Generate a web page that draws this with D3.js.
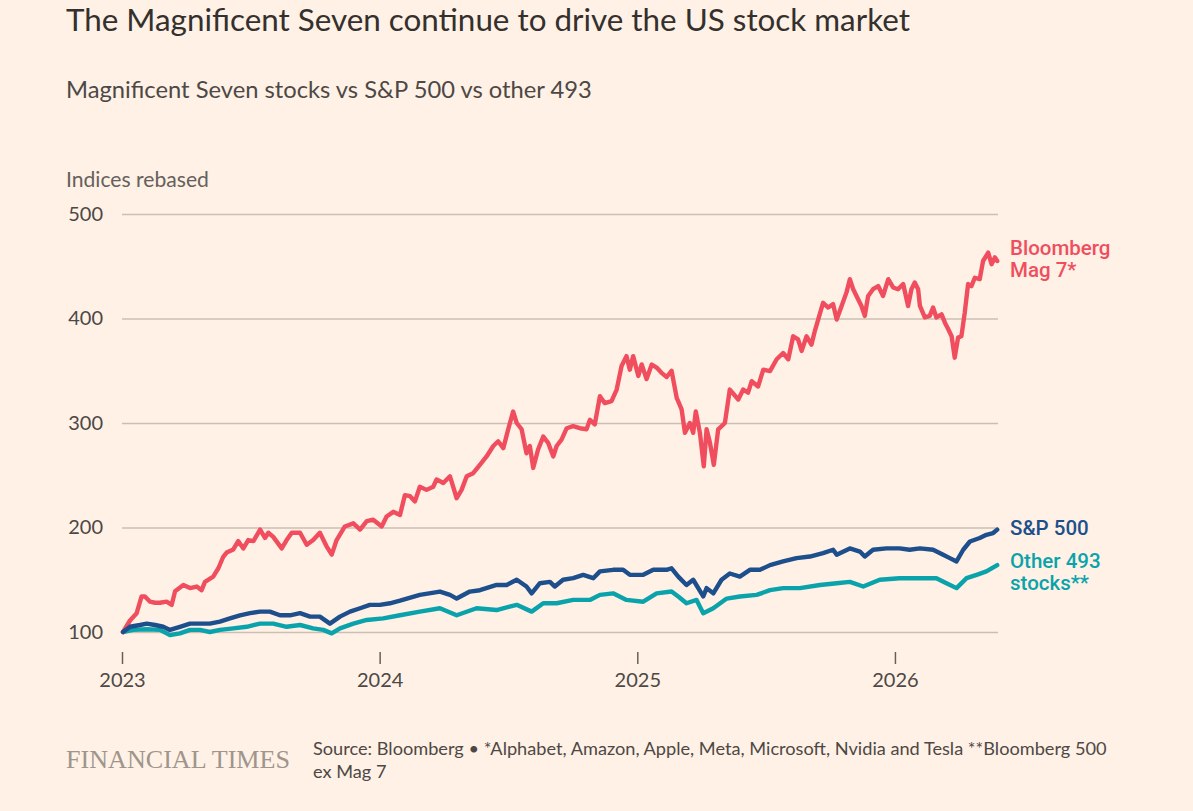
<!DOCTYPE html>
<html>
<head>
<meta charset="utf-8">
<script src="https://cdn.jsdelivr.net/npm/d3@7"></script>
<style>
  body { margin: 0; background: #fff1e5; }
  svg { display: block; }
</style>
</head>
<body>
<div id="chart"></div>
<script>
// values, x = decimal year, y = index (rebased to 100)
var mag7 = [
  [2023.004,100],[2023.031,111],[2023.057,118],[2023.076,134],[2023.089,134],[2023.109,129],
  [2023.128,128],[2023.147,128],[2023.173,129],[2023.193,126],[2023.206,139],[2023.238,145],
  [2023.264,142],[2023.290,143.5],[2023.309,140],[2023.322,148],[2023.354,153],[2023.374,161],
  [2023.393,172],[2023.406,176],[2023.432,179],[2023.451,187],[2023.471,180],[2023.490,188],
  [2023.510,187],[2023.536,198],[2023.555,190],[2023.568,195],[2023.587,191],[2023.620,180],
  [2023.639,188],[2023.659,195],[2023.691,195],[2023.717,183.5],[2023.742,188],[2023.768,195],
  [2023.794,182],[2023.814,174],[2023.833,188],[2023.865,201],[2023.898,204],[2023.924,198],
  [2023.950,206],[2023.975,207.5],[2024.008,201],[2024.027,210.5],[2024.053,215],[2024.079,212],
  [2024.098,231],[2024.118,230],[2024.137,225],[2024.156,239],[2024.182,236],[2024.208,239],
  [2024.221,246],[2024.247,242.6],[2024.273,249],[2024.299,228],[2024.318,236],[2024.338,249],
  [2024.363,252],[2024.389,260],[2024.415,268],[2024.441,278],[2024.460,282.5],[2024.480,276],
  [2024.499,294],[2024.518,311],[2024.532,300],[2024.551,294],[2024.570,271],[2024.583,278],
  [2024.596,257],[2024.615,274.6],[2024.635,287],[2024.654,281],[2024.674,268],[2024.687,278],
  [2024.706,284],[2024.726,295],[2024.751,297],[2024.777,295],[2024.803,294],[2024.816,303],
  [2024.835,298.6],[2024.855,325.7],[2024.874,319],[2024.900,321],[2024.920,332],[2024.939,354.5],
  [2024.958,364],[2024.971,351],[2024.984,364],[2025.004,345],[2025.017,356],[2025.036,342],
  [2025.056,356],[2025.075,353],[2025.094,348],[2025.114,344],[2025.133,350],[2025.153,324],
  [2025.172,313],[2025.185,290.6],[2025.204,300],[2025.217,290.6],[2025.227,311],[2025.243,290.6],
  [2025.258,258.6],[2025.269,294],[2025.282,281],[2025.297,260],[2025.314,294],[2025.340,300],
  [2025.359,332],[2025.392,322.5],[2025.411,332],[2025.430,329],[2025.444,340],[2025.469,335],
  [2025.489,351],[2025.515,349.7],[2025.541,361],[2025.566,367],[2025.586,361],[2025.605,383],
  [2025.624,380],[2025.638,369],[2025.657,383],[2025.676,375],[2025.689,388],[2025.702,399],
  [2025.721,415],[2025.741,410.5],[2025.760,413.7],[2025.774,399],[2025.793,412],[2025.812,425],
  [2025.825,437.6],[2025.838,428],[2025.857,418.5],[2025.870,412],[2025.883,402.5],[2025.896,421.6],
  [2025.915,428],[2025.935,431],[2025.954,421.6],[2025.974,437.6],[2025.993,429.7],[2026.012,428],
  [2026.032,433],[2026.051,412],[2026.064,428],[2026.077,434.5],[2026.090,428],[2026.097,412],
  [2026.116,401],[2026.135,402.5],[2026.148,410.5],[2026.161,401],[2026.181,404],[2026.194,396],
  [2026.207,389.7],[2026.220,383],[2026.232,362.5],[2026.245,381.7],[2026.258,383],[2026.271,405.7],
  [2026.284,433],[2026.297,431],[2026.310,439],[2026.329,437.6],[2026.342,455],[2026.362,463],
  [2026.375,452],[2026.388,458.5],[2026.397,455]
];

var spx = [
  [2023.004,100],[2023.031,105],[2023.070,106.7],[2023.096,108],[2023.128,106.7],[2023.160,105],
  [2023.186,102],[2023.225,105],[2023.264,108],[2023.303,108],[2023.341,108],[2023.380,110],
  [2023.419,113],[2023.458,116],[2023.497,118],[2023.536,119.5],[2023.574,119.5],[2023.613,116],
  [2023.652,116],[2023.691,118],[2023.730,114.7],[2023.768,114.7],[2023.807,108],[2023.846,114.7],
  [2023.885,119.5],[2023.924,122.7],[2023.962,126],[2024.001,126],[2024.040,127.5],[2024.079,130],
  [2024.156,135.5],[2024.234,138.7],[2024.273,135.5],[2024.299,132],[2024.350,138.7],[2024.389,140],
  [2024.454,145],[2024.493,145],[2024.532,150],[2024.570,143.5],[2024.590,137],[2024.622,146.7],
  [2024.661,148],[2024.680,143.5],[2024.712,150],[2024.751,151.5],[2024.790,154.7],[2024.829,151.5],
  [2024.855,158],[2024.906,159.5],[2024.945,159.5],[2024.971,154.7],[2025.023,154.7],[2025.062,159.5],
  [2025.114,159.5],[2025.133,161],[2025.159,153],[2025.191,145],[2025.217,150],[2025.256,134],
  [2025.269,142],[2025.295,137],[2025.327,150],[2025.359,156],[2025.398,153],[2025.437,159.5],
  [2025.476,159.5],[2025.515,164],[2025.566,167.5],[2025.618,170.7],[2025.670,172.2],[2025.721,175.5],
  [2025.760,178.7],[2025.774,174],[2025.825,180],[2025.864,177],[2025.883,172.2],[2025.915,178.7],
  [2025.967,180],[2026.018,180],[2026.057,178.7],[2026.097,180],[2026.148,178.7],[2026.187,174],
  [2026.213,170.7],[2026.239,167.5],[2026.265,178.7],[2026.291,186.6],[2026.329,190],[2026.355,193],
  [2026.381,194.7],[2026.397,198]
];

var other493 = [
  [2023.004,100],[2023.043,102],[2023.096,102.6],[2023.147,102],[2023.186,97],[2023.225,98.7],
  [2023.264,102],[2023.303,102],[2023.341,100],[2023.380,102],[2023.432,103.5],[2023.484,105],
  [2023.536,108],[2023.587,108],[2023.639,105],[2023.691,106.7],[2023.742,103.5],[2023.781,102],
  [2023.814,98.7],[2023.846,103.5],[2023.898,108],[2023.950,111.5],[2024.014,113],[2024.079,116],
  [2024.156,119.5],[2024.234,122.7],[2024.299,116],[2024.376,122.7],[2024.454,121],[2024.532,126],
  [2024.590,119.5],[2024.635,127.5],[2024.687,127.5],[2024.751,130.7],[2024.816,130.7],[2024.855,135.5],
  [2024.906,137],[2024.958,130.7],[2025.023,129],[2025.075,137],[2025.133,138.7],[2025.159,134],
  [2025.191,127.5],[2025.230,130.7],[2025.256,118],[2025.295,122.7],[2025.347,132],[2025.398,134],
  [2025.463,135.5],[2025.515,140],[2025.566,142],[2025.631,142],[2025.709,145],[2025.774,146.7],
  [2025.825,148],[2025.877,143.5],[2025.941,150],[2026.018,151.5],[2026.097,151.5],[2026.161,151.5],
  [2026.200,146.7],[2026.239,142],[2026.278,151.5],[2026.317,154.7],[2026.355,158],[2026.397,164]
];

var yearTicks = [2023, 2024, 2025, 2026];
var valueTicks = [100, 200, 300, 400, 500];

var seriesNames = [["Bloomberg", "Mag 7*"], ["S&P 500"], ["Other 493", "stocks**"]];

var svgWidth = 1193;
var svgHeight = 811;

var colors = { mag7: "#f04e5e", spx: "#1d4f8c", other: "#0aa3ab" };

var svg = d3.select("#chart")
    .append("svg")
    .attr("width", svgWidth)
    .attr("height", svgHeight)
    .style("font-family", "Lato, 'Noto Sans', sans-serif");

svg.append("rect")
    .attr("width", svgWidth)
    .attr("height", svgHeight)
    .attr("fill", "#fff1e5");

// shrink or grow a text so it fills a given width
function fitWidth(sel, target) {
    var w = sel.node().getComputedTextLength();
    var fs = parseFloat(sel.attr("font-size"));
    sel.attr("font-size", (fs * target / w).toFixed(2));
}

var title = svg.append("text")
    .attr("x", 66).attr("y", 31)
    .attr("font-size", 28)
    .attr("fill", "#33302e")
    .text("The Magnificent Seven continue to drive the US stock market");
fitWidth(title, 844);

var subtitle = svg.append("text")
    .attr("x", 66).attr("y", 98)
    .attr("font-size", 21)
    .attr("fill", "#4d4845")
    .text("Magnificent Seven stocks vs S&P 500 vs other 493");
fitWidth(subtitle, 526);

var unit = svg.append("text")
    .attr("x", 66).attr("y", 187)
    .attr("font-size", 19)
    .attr("fill", "#66605c")
    .text("Indices rebased");
fitWidth(unit, 143);

var x = d3.scaleLinear()
    .domain([2023, 2026.4])
    .range([122, 998]);

var y = d3.scaleLinear()
    .domain([100, 500])
    .range([632, 214]);

// gridlines + y labels
var yAxis = d3.axisLeft(y)
    .tickValues(valueTicks)
    .tickSize(-(x.range()[1] - x.range()[0]))
    .tickPadding(19);

var yg = svg.append("g")
    .attr("transform", `translate(${x.range()[0]},0)`)
    .call(yAxis);
yg.select(".domain").remove();
yg.selectAll(".tick line")
    .attr("stroke", "#cbbfb4")
    .attr("stroke-width", 1.6);
yg.selectAll(".tick text")
    .attr("fill", "#4d4845")
    .attr("font-size", 20)
    .attr("font-family", "Lato, sans-serif");

// x axis
var xAxis = d3.axisBottom(x)
    .tickValues(yearTicks)
    .tickFormat(d3.format("d"))
    .tickSize(12)
    .tickPadding(9);

var xg = svg.append("g")
    .attr("transform", "translate(0,652)")
    .call(xAxis);
xg.select(".domain").remove();
xg.selectAll(".tick line")
    .attr("stroke", "#66605c")
    .attr("stroke-width", 1.5);
xg.selectAll(".tick text")
    .attr("fill", "#4d4845")
    .attr("font-size", 20)
    .attr("font-family", "Lato, sans-serif");

var line = d3.line()
    .x(d => x(d[0]))
    .y(d => y(d[1]));

var series = [
    { data: other493, color: colors.other },
    { data: mag7, color: colors.mag7 },
    { data: spx, color: colors.spx }
];

svg.selectAll("path.series")
    .data(series)
    .enter()
    .append("path")
    .attr("class", "series")
    .attr("d", d => line(d.data))
    .attr("fill", "none")
    .attr("stroke", d => d.color)
    .attr("stroke-width", 4.4)
    .attr("stroke-linejoin", "round")
    .attr("stroke-linecap", "round");

// end labels
var labels = [
    { lines: seriesNames[0], color: colors.mag7, last: mag7[mag7.length - 1], dy: -6 },
    { lines: seriesNames[1], color: colors.spx, last: spx[spx.length - 1], dy: 5 },
    { lines: seriesNames[2], color: colors.other, last: other493[other493.length - 1], dy: 3 }
];

labels.forEach(function (l) {
    var t = svg.append("text")
        .attr("x", 1010)
        .attr("y", y(l.last[1]) + l.dy)
        .attr("fill", l.color)
        .attr("font-size", 20.5)
        .attr("font-weight", 500)
        .attr("font-family", "Roboto, sans-serif");
    l.lines.forEach(function (s, i) {
        t.append("tspan")
            .attr("x", 1010)
            .attr("dy", i === 0 ? 0 : 22)
            .text(s);
    });
});

// footer
svg.append("text")
    .attr("x", 66).attr("y", 768)
    .attr("font-size", 25)
    .attr("font-family", "'Liberation Serif', 'DejaVu Serif', serif")
    .attr("fill", "#9e958d")
    .attr("textLength", 224)
    .attr("lengthAdjust", "spacingAndGlyphs")
    .text("FINANCIAL TIMES");

var src1 = svg.append("text")
    .attr("x", 313).attr("y", 755)
    .attr("font-size", 16)
    .attr("fill", "#4d4845")
    .text("Source: Bloomberg • *Alphabet, Amazon, Apple, Meta, Microsoft, Nvidia and Tesla **Bloomberg 500");
fitWidth(src1, 794);

svg.append("text")
    .attr("x", 313).attr("y", 778)
    .attr("font-size", src1.attr("font-size"))
    .attr("fill", "#4d4845")
    .text("ex Mag 7");
</script>
</body>
</html>
